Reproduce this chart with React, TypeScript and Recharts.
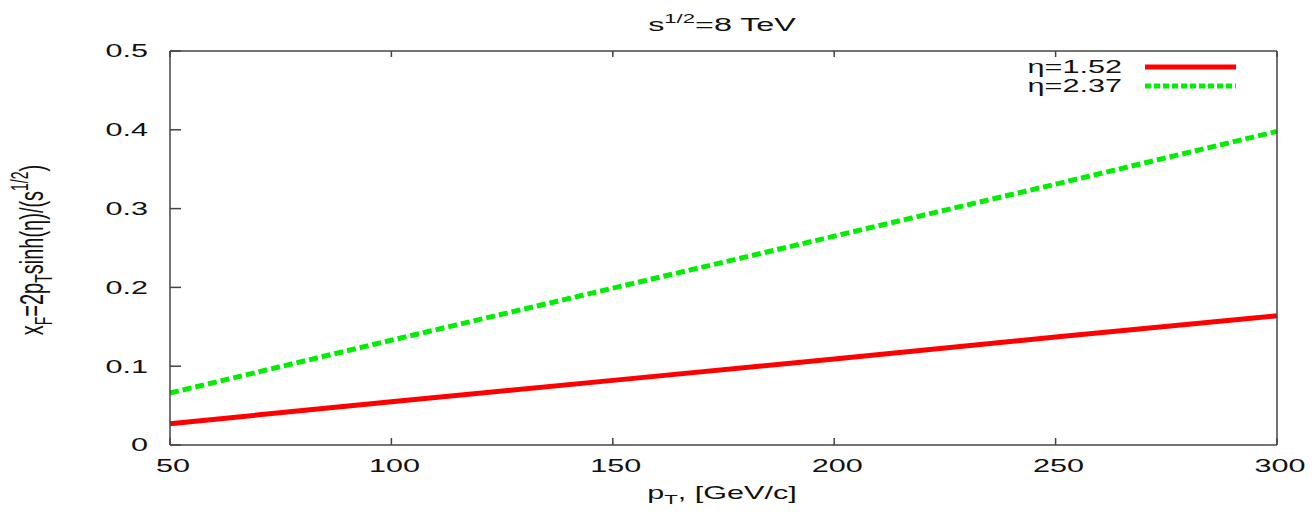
import React from 'react';
import { Line, LineChart, XAxis, YAxis } from 'recharts';

const PT = [50, 100, 150, 200, 250, 300];
const ETA_152 = [0.027, 0.055, 0.082, 0.109, 0.137, 0.164];
const ETA_237 = [0.066, 0.133, 0.199, 0.265, 0.331, 0.398];

const X_TICKS = [50, 100, 150, 200, 250, 300];
const Y_TICKS = [0, 0.1, 0.2, 0.3, 0.4, 0.5];

const SERIES = [
  { key: 'eta152', name: 'η=1.52', color: '#ff0000', dash: undefined as string | undefined, legendDash: undefined as string | undefined },
  { key: 'eta237', name: 'η=2.37', color: '#00ee00', dash: '9 4', legendDash: '6 3' },
];

const DATA = PT.map((pt, i) => ({ pt, eta152: ETA_152[i], eta237: ETA_237[i] }));

const FONT = '"Liberation Sans", Arial, Helvetica, sans-serif';
const AXIS = '#444';
const INK = '#111';
const SX = 1.7; // the reference is stretched sideways

const BottomTick: React.FC<any> = ({ x, y, payload }) => (
  <g>
    <line x1={x} y1={y} x2={x} y2={y - 7} stroke={AXIS} strokeWidth={1.5} />
    <text
      transform={`translate(${x + 3},${y + 27}) scale(${SX},1)`}
      textAnchor="middle"
      fontSize={18}
      fontFamily={FONT}
      fill={INK}
    >
      {payload.value}
    </text>
  </g>
);

const TopTick: React.FC<any> = ({ x, y }) => (
  <line x1={x} y1={y} x2={x} y2={y + 6} stroke={AXIS} strokeWidth={1.5} />
);

const LeftTick: React.FC<any> = ({ x, y, payload }) => (
  <g>
    <line x1={x} y1={y} x2={x + 11} y2={y} stroke={AXIS} strokeWidth={1.5} />
    <text
      transform={`translate(${x - 22},${y}) scale(${SX},1)`}
      textAnchor="end"
      dominantBaseline="central"
      fontSize={18}
      fontFamily={FONT}
      fill={INK}
    >
      {String(payload.value)}
    </text>
  </g>
);

const RightTick: React.FC<any> = ({ x, y }) => (
  <line x1={x} y1={y} x2={x - 6} y2={y} stroke={AXIS} strokeWidth={1.5} />
);

export default function App() {
  return (
    <div style={{ position: 'absolute', left: 0, top: 0, width: 1315, height: 512, background: '#fff' }}>
      <LineChart
        width={1315}
        height={512}
        data={DATA}
        margin={{ top: 41, right: 28, bottom: 37, left: 110 }}
      >
        <XAxis
          dataKey="pt"
          type="number"
          domain={[50, 300]}
          ticks={X_TICKS}
          height={30}
          axisLine={{ stroke: AXIS, strokeWidth: 1.5 }}
          tickLine={false}
          tickSize={0}
          tickMargin={0}
          tick={<BottomTick />}
          interval={0}
        />
        <XAxis
          xAxisId="top"
          orientation="top"
          dataKey="pt"
          type="number"
          domain={[50, 300]}
          ticks={X_TICKS}
          height={10}
          axisLine={{ stroke: AXIS, strokeWidth: 1.5 }}
          tickLine={false}
          tickSize={0}
          tickMargin={0}
          tick={<TopTick />}
          interval={0}
        />
        <YAxis
          type="number"
          domain={[0, 0.5]}
          ticks={Y_TICKS}
          width={60}
          axisLine={{ stroke: AXIS, strokeWidth: 1.5 }}
          tickLine={false}
          tickSize={0}
          tickMargin={0}
          tick={<LeftTick />}
          interval={0}
        />
        <YAxis
          yAxisId="right"
          orientation="right"
          type="number"
          domain={[0, 0.5]}
          ticks={Y_TICKS}
          width={10}
          axisLine={{ stroke: AXIS, strokeWidth: 1.5 }}
          tickLine={false}
          tickSize={0}
          tickMargin={0}
          tick={<RightTick />}
          interval={0}
        />
        {SERIES.map((s) => (
          <Line
            key={s.key}
            type="linear"
            dataKey={s.key}
            name={s.name}
            stroke={s.color}
            strokeWidth={5}
            strokeDasharray={s.dash}
            dot={false}
            activeDot={false}
            isAnimationActive={false}
          />
        ))}
      </LineChart>
      <svg
        width={1315}
        height={512}
        style={{ position: 'absolute', left: 0, top: 0, pointerEvents: 'none' }}
        fontFamily={FONT}
        fill={INK}
      >
        {/* title */}
        <text transform={`translate(722,31) scale(${SX},1)`} textAnchor="middle" fontSize={19}>
          s<tspan fontSize={13} dy={-8}>1/2</tspan>
          <tspan dy={8}>=8 TeV</tspan>
        </text>
        {/* x label */}
        <text transform={`translate(722,499) scale(${SX},1)`} textAnchor="middle" fontSize={18}>
          p<tspan fontSize={13} dy={5}>T</tspan>
          <tspan dy={-5}>, [GeV/c]</tspan>
        </text>
        {/* y label */}
        <text transform={`translate(43,250) scale(${SX},1) rotate(-90)`} textAnchor="middle" fontSize={20}>
          x<tspan fontSize={14} dy={5}>F</tspan>
          <tspan dy={-5}>=2p</tspan>
          <tspan fontSize={14} dy={5}>T</tspan>
          <tspan dy={-5}>sinh(η)/(s</tspan>
          <tspan fontSize={14} dy={-9}>1/2</tspan>
          <tspan dy={9}>)</tspan>
        </text>
        {/* legend */}
        {SERIES.map((s, i) => {
          const y = 67 + i * 19;
          return (
            <g key={s.key}>
              <text
                transform={`translate(1122,${y}) scale(${SX},1)`}
                textAnchor="end"
                dominantBaseline="central"
                fontSize={18}
              >
                {s.name}
              </text>
              <line x1={1145} y1={y} x2={1236} y2={y} stroke={s.color} strokeWidth={5} strokeDasharray={s.legendDash} />
            </g>
          );
        })}
      </svg>
    </div>
  );
}
